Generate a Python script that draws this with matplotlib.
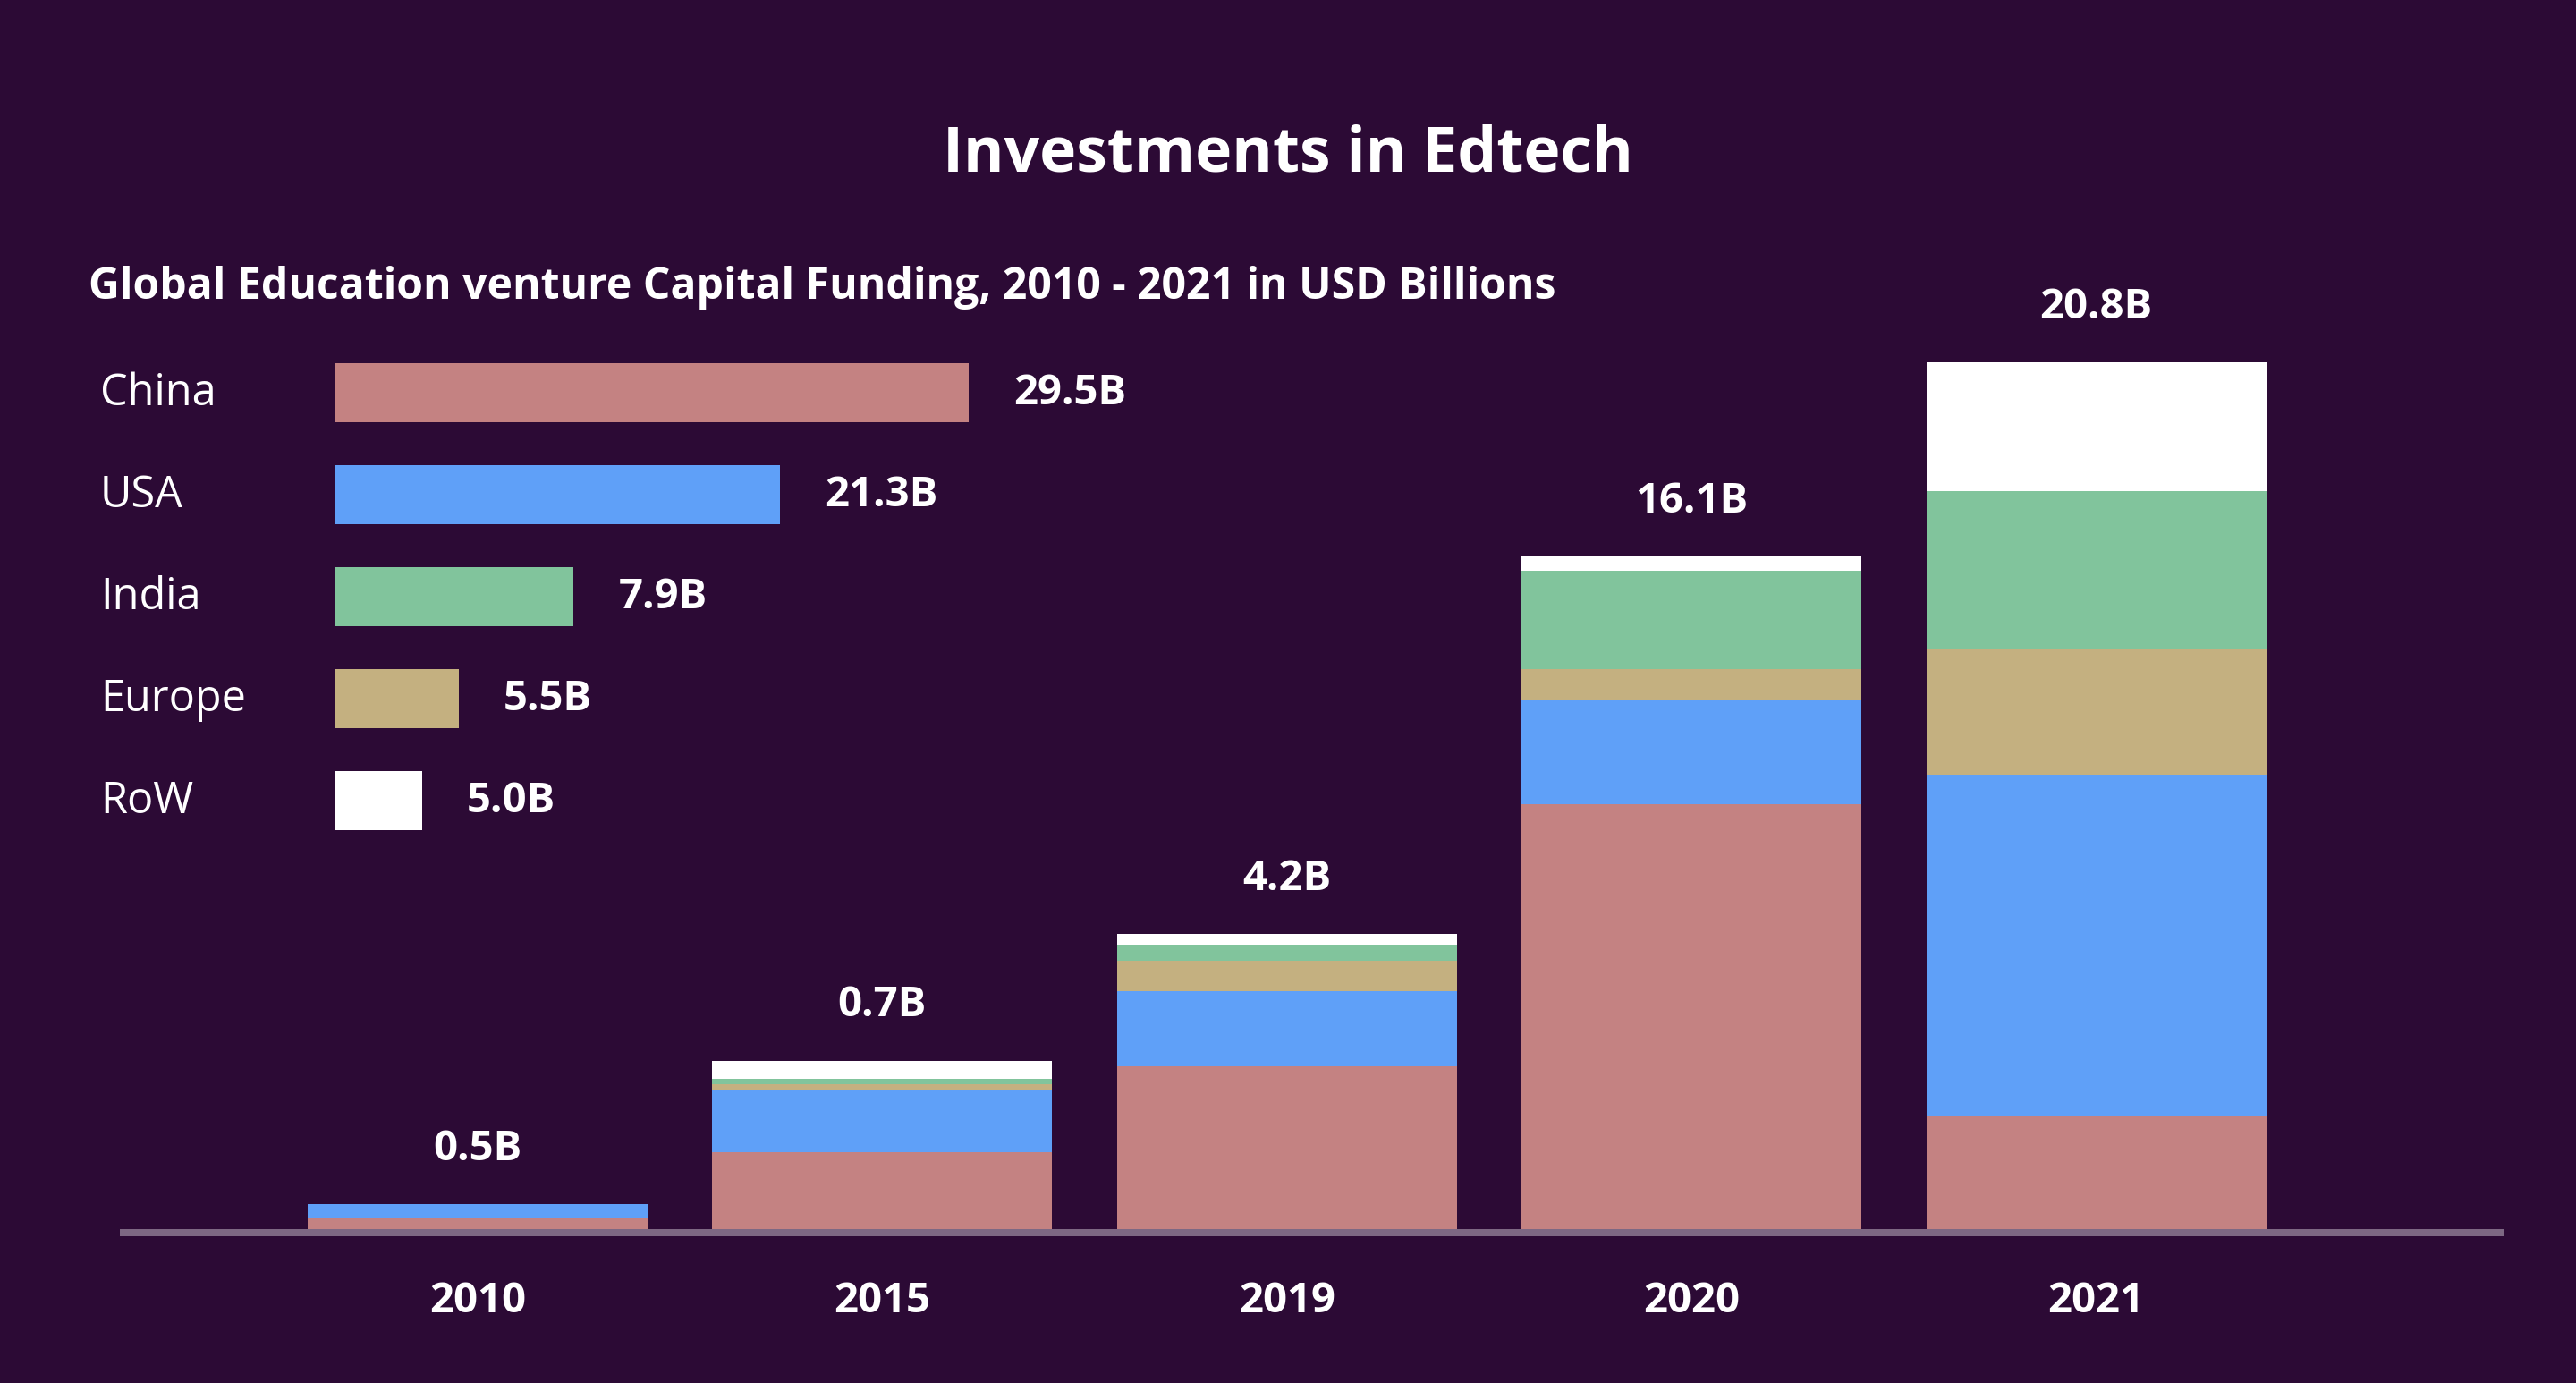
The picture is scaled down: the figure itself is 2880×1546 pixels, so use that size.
import matplotlib
matplotlib.use("Agg")
import matplotlib.pyplot as plt

# --- data ---
years = ["2010", "2015", "2019", "2020", "2021"]
china = [0.26, 1.85, 3.9, 10.2, 2.7]
usa = [0.34, 1.5, 1.8, 2.5, 8.2]
europe = [0.0, 0.13, 0.73, 0.73, 3.0]
india = [0.0, 0.13, 0.39, 2.36, 3.8]
row = [0.0, 0.43, 0.26, 0.34, 3.1]
year_totals = ["0.5B", "0.7B", "4.2B", "16.1B", "20.8B"]

regions = ["China", "USA", "India", "Europe", "RoW"]
region_bar_len = [29.5, 20.7, 11.1, 5.75, 4.05]
region_totals = ["29.5B", "21.3B", "7.9B", "5.5B", "5.0B"]

BG = "#2c0a35"
colors = {"China": "#c48282", "USA": "#5fa0f8", "India": "#81c49c",
          "Europe": "#c4b080", "RoW": "#ffffff"}

plt.rcParams["font.family"] = ["Open Sans", "DejaVu Sans"]

W, H = 2880, 1546
fig = plt.figure(figsize=(W / 100, H / 100), dpi=100, facecolor=BG)

# main stacked bars
ax = fig.add_axes([138 / W, (H - 1374) / H, (2796 - 138) / W, 1074 / H])
ax.set_facecolor("none")
for s in ["top", "left", "right"]:
    ax.spines[s].set_visible(False)
ax.spines["bottom"].set_position(("outward", 2.88))
ax.spines["bottom"].set_color((1, 1, 1, 0.39))
ax.spines["bottom"].set_linewidth(5.76)

x = range(len(years))
bottom = [0.0] * len(years)
for name, vals in [("China", china), ("USA", usa), ("Europe", europe),
                   ("India", india), ("RoW", row)]:
    ax.bar(x, vals, bottom=bottom, width=0.84, color=colors[name], linewidth=0)
    bottom = [b + v for b, v in zip(bottom, vals)]

for i, (tot, lab) in enumerate(zip(bottom, year_totals)):
    ax.annotate(lab, (i, tot), xytext=(0, 44.5), textcoords="offset points",
                ha="center", va="center", color="white", fontsize=34,
                fontweight="bold")

ax.set_xlim(-0.875, 5.0)
ax.set_ylim(0, 23.05)
ax.set_yticks([])
ax.set_xticks(list(x))
ax.set_xticklabels(years)
ax.tick_params(axis="x", length=0, pad=38, labelcolor="white", labelsize=34)
for t in ax.get_xticklabels():
    t.set_fontweight("bold")

# left "legend" bars with totals per region
lax = fig.add_axes([375 / W, (H - 952) / H, 720 / W, 570 / H])
lax.set_facecolor("none")
lax.barh(range(len(regions)), region_bar_len, height=0.579,
         color=[colors[r] for r in regions], linewidth=0)
lax.set_xlim(0, 30)
lax.set_ylim(len(regions) - 0.5, -0.5)
lax.axis("off")
for i, (r, length, lab) in enumerate(zip(regions, region_bar_len, region_totals)):
    lax.annotate(lab, (length, i), xytext=(36, 0), textcoords="offset points",
                 ha="left", va="center", color="white", fontsize=34,
                 fontweight="bold")
    fig.text(112 / W, 1 - (440 + 114 * i) / H, r, ha="left", va="center",
             color="white", fontsize=35)

fig.text(1440 / W, 1 - 174 / H, "Investments in Edtech", ha="center",
         va="center", color="white", fontsize=50, fontweight="bold")
fig.text(99 / W, 1 - 322 / H,
         "Global Education venture Capital Funding, 2010 - 2021 in USD Billions",
         ha="left", va="center", color="white", fontsize=34.7, fontweight="bold")

fig.savefig("out.png", dpi=100, facecolor=BG)
